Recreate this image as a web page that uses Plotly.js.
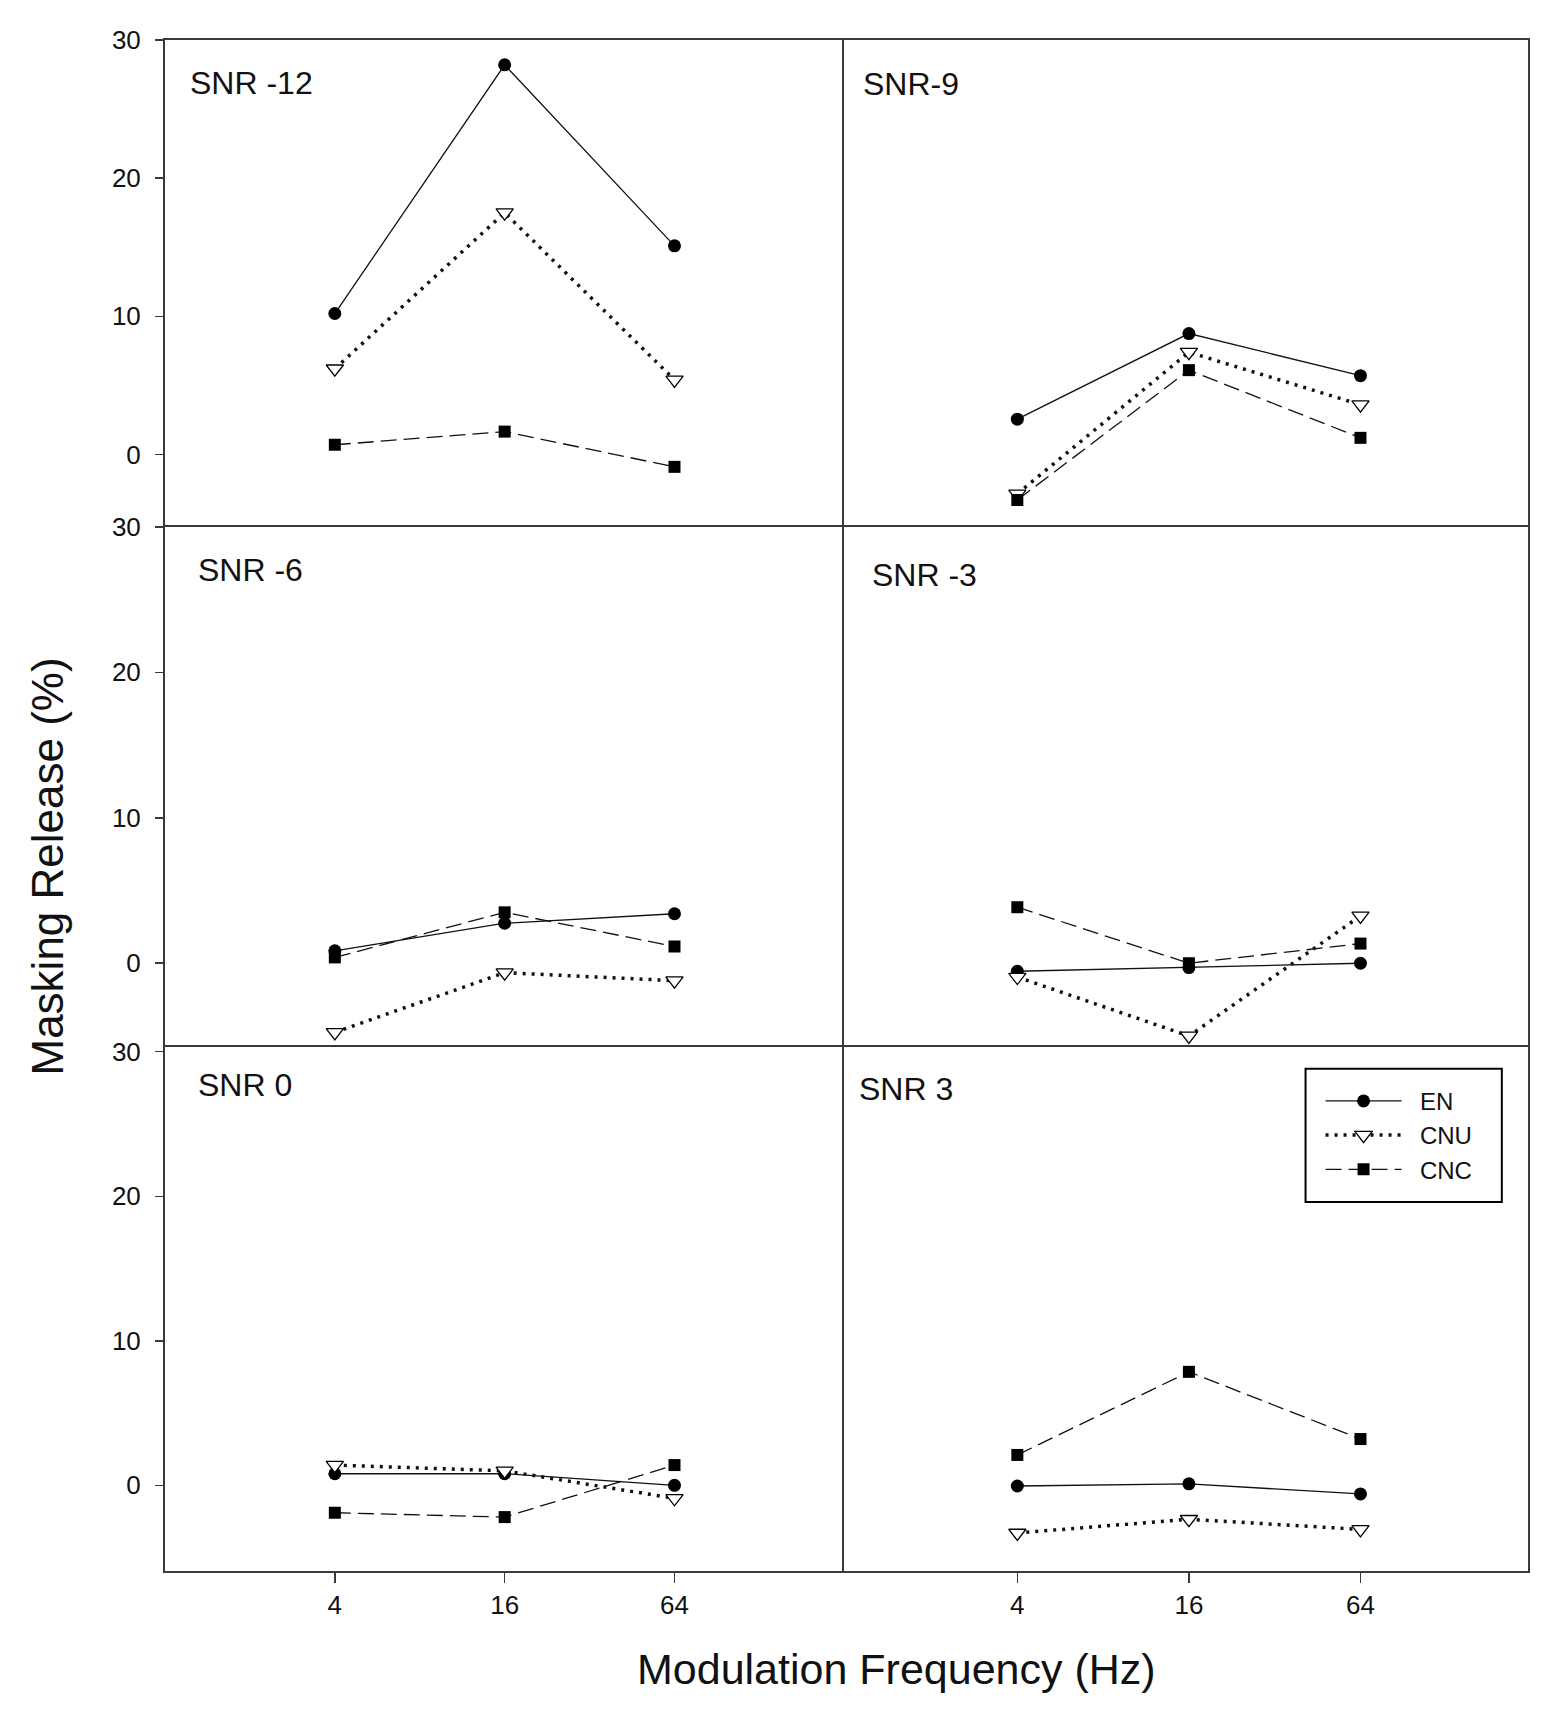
<!DOCTYPE html>
<html>
<head>
<meta charset="utf-8">
<script src="https://cdn.plot.ly/plotly-3.0.1.min.js"></script>
<style>
  html, body { margin: 0; padding: 0; background: #fff; }
  #chart { width: 1559px; height: 1721px; }
</style>
</head>
<body>
<div id="chart"></div>
<script>
// x values (Hz) and panel titles, top-left to bottom-right
const freqs = [4, 16, 64];
const tickLabels = ["4", "16", "64"];
const yTicks = [0, 10, 20, 30];
const panelNames = ["SNR -12", "SNR-9", "SNR -6", "SNR -3", "SNR 0", "SNR 3"];

// masking release (%) per panel, one row per panel
const EN = [
  [10.2, 28.2, 15.1],
  [2.55, 8.75, 5.7],
  [0.85, 2.75, 3.4],
  [-0.55, -0.3, 0.0],
  [0.8, 0.8, 0.0],
  [-0.05, 0.1, -0.6],
];
const CNU = [
  [6.2, 17.5, 5.4],
  [-2.85, 7.4, 3.6],
  [-4.75, -0.65, -1.2],
  [-0.95, -5.0, 3.25],
  [1.4, 1.0, -0.9],
  [-3.3, -2.35, -3.05],
];
const CNC = [
  [0.7, 1.65, -0.9],
  [-3.3, 6.1, 1.2],
  [0.4, 3.5, 1.15],
  [3.85, 0.0, 1.35],
  [-1.9, -2.2, 1.4],
  [2.1, 7.85, 3.2],
];

const FONT = "Liberation Sans, Arial, sans-serif";
const frame = "#3a3a3a";
const pad = "\u00a0\u00a0";

const series = [
  { name: "EN", vals: EN,
    line: { color: "#111", width: 1.3, dash: "solid" },
    marker: { symbol: "circle", size: 13, color: "#000" } },
  { name: "CNU", vals: CNU,
    line: { color: "#111", width: 3.5, dash: "3px,6px" },
    marker: { symbol: "triangle-down", size: 15, color: "#fff", line: { color: "#000", width: 1.3 } } },
  { name: "CNC", vals: CNC,
    line: { color: "#111", width: 1.3, dash: "16px,7px" },
    marker: { symbol: "square", size: 12, color: "#000" } },
];

// panel grid (a 2px gap so the shared frame lines coincide)
const xDomains = [[0, 0.4967], [0.4982, 1]];
const yDomains = [[0.6833, 1], [0.3433, 0.682], [0, 0.342]];
const yRanges = [[-5.1, 30], [-5.65, 30], [-5.93, 30.3]];
const xRanges = [[0, 2.4], [-0.006, 2.394]];
const labelShift = [[23, 43], [17, 44], [31, 43], [26, 48], [31, 38], [13, 42]];

const traces = [];
const layout = {
  width: 1559,
  height: 1721,
  margin: { l: 165, r: 31, t: 40, b: 150 },
  paper_bgcolor: "#fff",
  plot_bgcolor: "#fff",
  font: { family: FONT, color: "#111" },
  showlegend: true,
  legend: {
    x: 0.8368, y: 0.3215, xanchor: "left", yanchor: "top",
    bgcolor: "rgba(0,0,0,0)", borderwidth: 0,
    font: { size: 24, family: FONT },
    itemwidth: 76, indentation: 15, tracegroupgap: 0,
  },
  // legend frame
  shapes: [{
    type: "rect", xref: "paper", yref: "paper",
    x0: 0.8368, x1: 0.9808, y0: 0.2411, y1: 0.328,
    line: { color: "#000", width: 2 }, fillcolor: "#fff", layer: "above",
  }],
  annotations: [],
};

panelNames.forEach((title, i) => {
  const n = i + 1;
  const col = i % 2;
  const row = Math.floor(i / 2);
  const xa = "x" + (n === 1 ? "" : n);
  const ya = "y" + (n === 1 ? "" : n);
  const bottom = row === 2;
  const left = col === 0;

  series.forEach((s) => {
    traces.push({
      type: "scatter",
      mode: "lines+markers",
      x: freqs,
      y: s.vals[i],
      xaxis: xa,
      yaxis: ya,
      name: pad + s.name,
      legendgroup: s.name,
      showlegend: i === 0,
      line: s.line,
      marker: s.marker,
      cliponaxis: false,
    });
  });

  layout["xaxis" + (n === 1 ? "" : n)] = {
    domain: xDomains[col],
    anchor: ya,
    type: "log",
    range: xRanges[col],
    showline: true, mirror: true, linecolor: frame, linewidth: 2,
    showgrid: false, zeroline: false,
    tickvals: freqs, ticktext: tickLabels,
    ticks: bottom ? "outside" : "",
    ticklen: 10, tickwidth: 1.5, tickcolor: frame,
    showticklabels: bottom,
    ticklabelstandoff: 0,
    tickfont: { size: 26, family: FONT, color: "#111" },
  };
  layout["yaxis" + (n === 1 ? "" : n)] = {
    domain: yDomains[row],
    anchor: xa,
    range: yRanges[row],
    showline: true, mirror: true, linecolor: frame, linewidth: 2,
    showgrid: false, zeroline: false,
    tickvals: yTicks,
    ticks: left ? "outside" : "",
    ticklen: 8, tickwidth: 1.5, tickcolor: frame,
    showticklabels: left,
    ticklabelstandoff: 9,
    tickfont: { size: 26, family: FONT, color: "#111" },
  };

  layout.annotations.push({
    text: title,
    xref: xa + " domain", yref: ya + " domain",
    x: 0, y: 1, xanchor: "left", yanchor: "middle",
    xshift: labelShift[i][0], yshift: -labelShift[i][1],
    showarrow: false,
    font: { size: 32, family: FONT, color: "#111" },
  });
});

// axis titles
layout.annotations.push({
  text: "Masking Release (%)",
  xref: "paper", yref: "paper",
  x: -0.086, y: 0.46, xanchor: "center", yanchor: "middle",
  textangle: -90, showarrow: false,
  font: { size: 44, family: FONT, color: "#111" },
});
layout.annotations.push({
  text: "Modulation Frequency (Hz)",
  xref: "paper", yref: "paper",
  x: 0.537, y: -0.064, xanchor: "center", yanchor: "middle",
  showarrow: false,
  font: { size: 43, family: FONT, color: "#111" },
});

Plotly.newPlot("chart", traces, layout, { displayModeBar: false, staticPlot: true });
</script>
</body>
</html>
